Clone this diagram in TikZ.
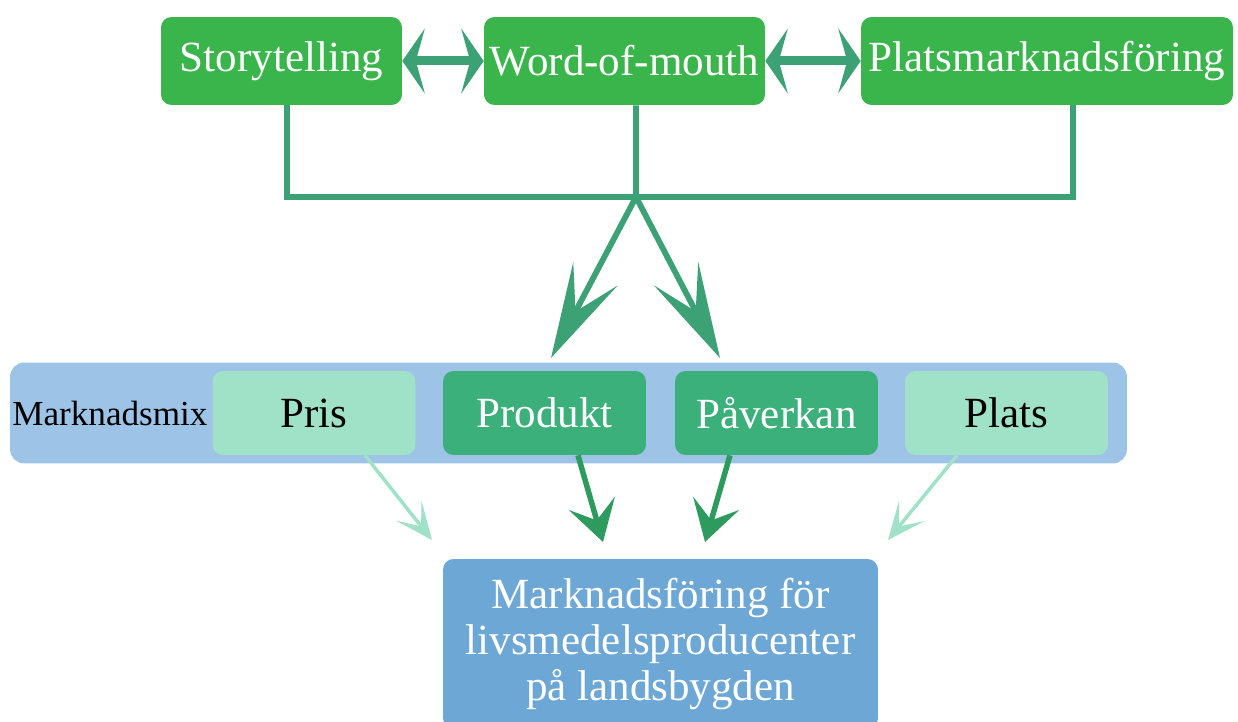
\documentclass[tikz,border=0pt]{standalone}
\usepackage{fontspec}
\setmainfont{Liberation Serif}
\usetikzlibrary{arrows.meta}
\definecolor{topgreen}{HTML}{3AB54B}
\definecolor{linkgreen}{HTML}{3DA176}
\definecolor{midgreen}{HTML}{3BB07A}
\definecolor{darkgreen}{HTML}{2E9B5E}
\definecolor{mint}{HTML}{A0E2C8}
\definecolor{barblue}{HTML}{9DC3E6}
\definecolor{goalblue}{HTML}{6DA7D6}
\tikzset{top/.style={fill=topgreen,rounded corners=6pt,text=white,minimum height=1.76cm,align=center,font=\fontsize{24.5}{26}\selectfont},
mix/.style={fill=midgreen,rounded corners=6pt,text=white,minimum width=4.06cm,minimum height=1.68cm,font=\fontsize{24.5}{26}\selectfont},
pale/.style={mix,fill=mint,text=black},
goal/.style={fill=goalblue,rounded corners=6pt,text=white,minimum width=8.7cm,minimum height=3.4cm,align=center,font=\fontsize{24.5}{26}\selectfont},
link/.style={linkgreen,line width=3.3pt},
both/.style={{Stealth[length=0.45cm,width=1.3cm,inset=0.18cm]}-{Stealth[length=0.45cm,width=1.3cm,inset=0.18cm]},linkgreen,line width=0.18cm},
big/.style={-{Stealth[length=1.9cm,width=1cm,inset=0.85cm]},link},
strong/.style={-{Stealth[length=0.8cm,width=0.95cm,inset=0.35cm]},darkgreen,line width=0.11cm},
weak/.style={-{Stealth[length=0.75cm,width=0.65cm,inset=0.4cm]},mint,line width=0.07cm}}

\begin{document}
\begin{tikzpicture}[x=0.02cm,y=-0.02cm]
\useasboundingbox (0,0) rectangle (1238,722);
\node[top,minimum width=4.82cm] (story) at (281.5,61) {Storytelling};
\node[top,minimum width=5.62cm] (word) at (624.5,61) {Word-of-mouth};
\node[top,minimum width=7.44cm] (plats) at (1047,61) {Platsmarknadsföring};

\draw[both] (story.east) -- (word.west);
\draw[both] (word.east) -- (plats.west);

\coordinate (hub) at (636,197);
\draw[link] ([xshift=0.11cm]story.south) |- (hub) -| ([xshift=0.52cm]plats.south);
\draw[link] ([xshift=0.23cm]word.south) -- (hub);

\node[fill=barblue,rounded corners=8pt,minimum width=22.34cm,minimum height=2.02cm] (bar) at (568.5,413) {};
\node[anchor=west,inner sep=0,font=\fontsize{20}{22}\selectfont] (label) at (12,413) {Marknadsmix};
\node[pale] (pris) at (314,413) {Pris};
\node[mix] (prod) at (544.5,413) {Produkt};
\node[mix] (paverk) at (776.5,413) {Påverkan};
\node[pale] (plats2) at (1006.5,413) {Plats};

\coordinate (a1) at (551,358);
\coordinate (a2) at (720,358);
\draw[big] (hub) -- (a1);
\draw[big] (hub) -- (a2);

\node[goal] (goal) at (660.5,644) {Marknadsföring för\\livsmedelsproducenter\\på landsbygden};

\coordinate (e1) at (432,540);
\coordinate (e2) at (603,542);
\coordinate (e3) at (705,542);
\coordinate (e4) at (888,540);
\draw[weak] ([xshift=1.02cm]pris.south) -- (e1);
\draw[strong] ([xshift=0.67cm]prod.south) -- (e2);
\draw[strong] ([xshift=-0.93cm]paverk.south) -- (e3);
\draw[weak] ([xshift=-0.99cm]plats2.south) -- (e4);
\end{tikzpicture}
\end{document}
